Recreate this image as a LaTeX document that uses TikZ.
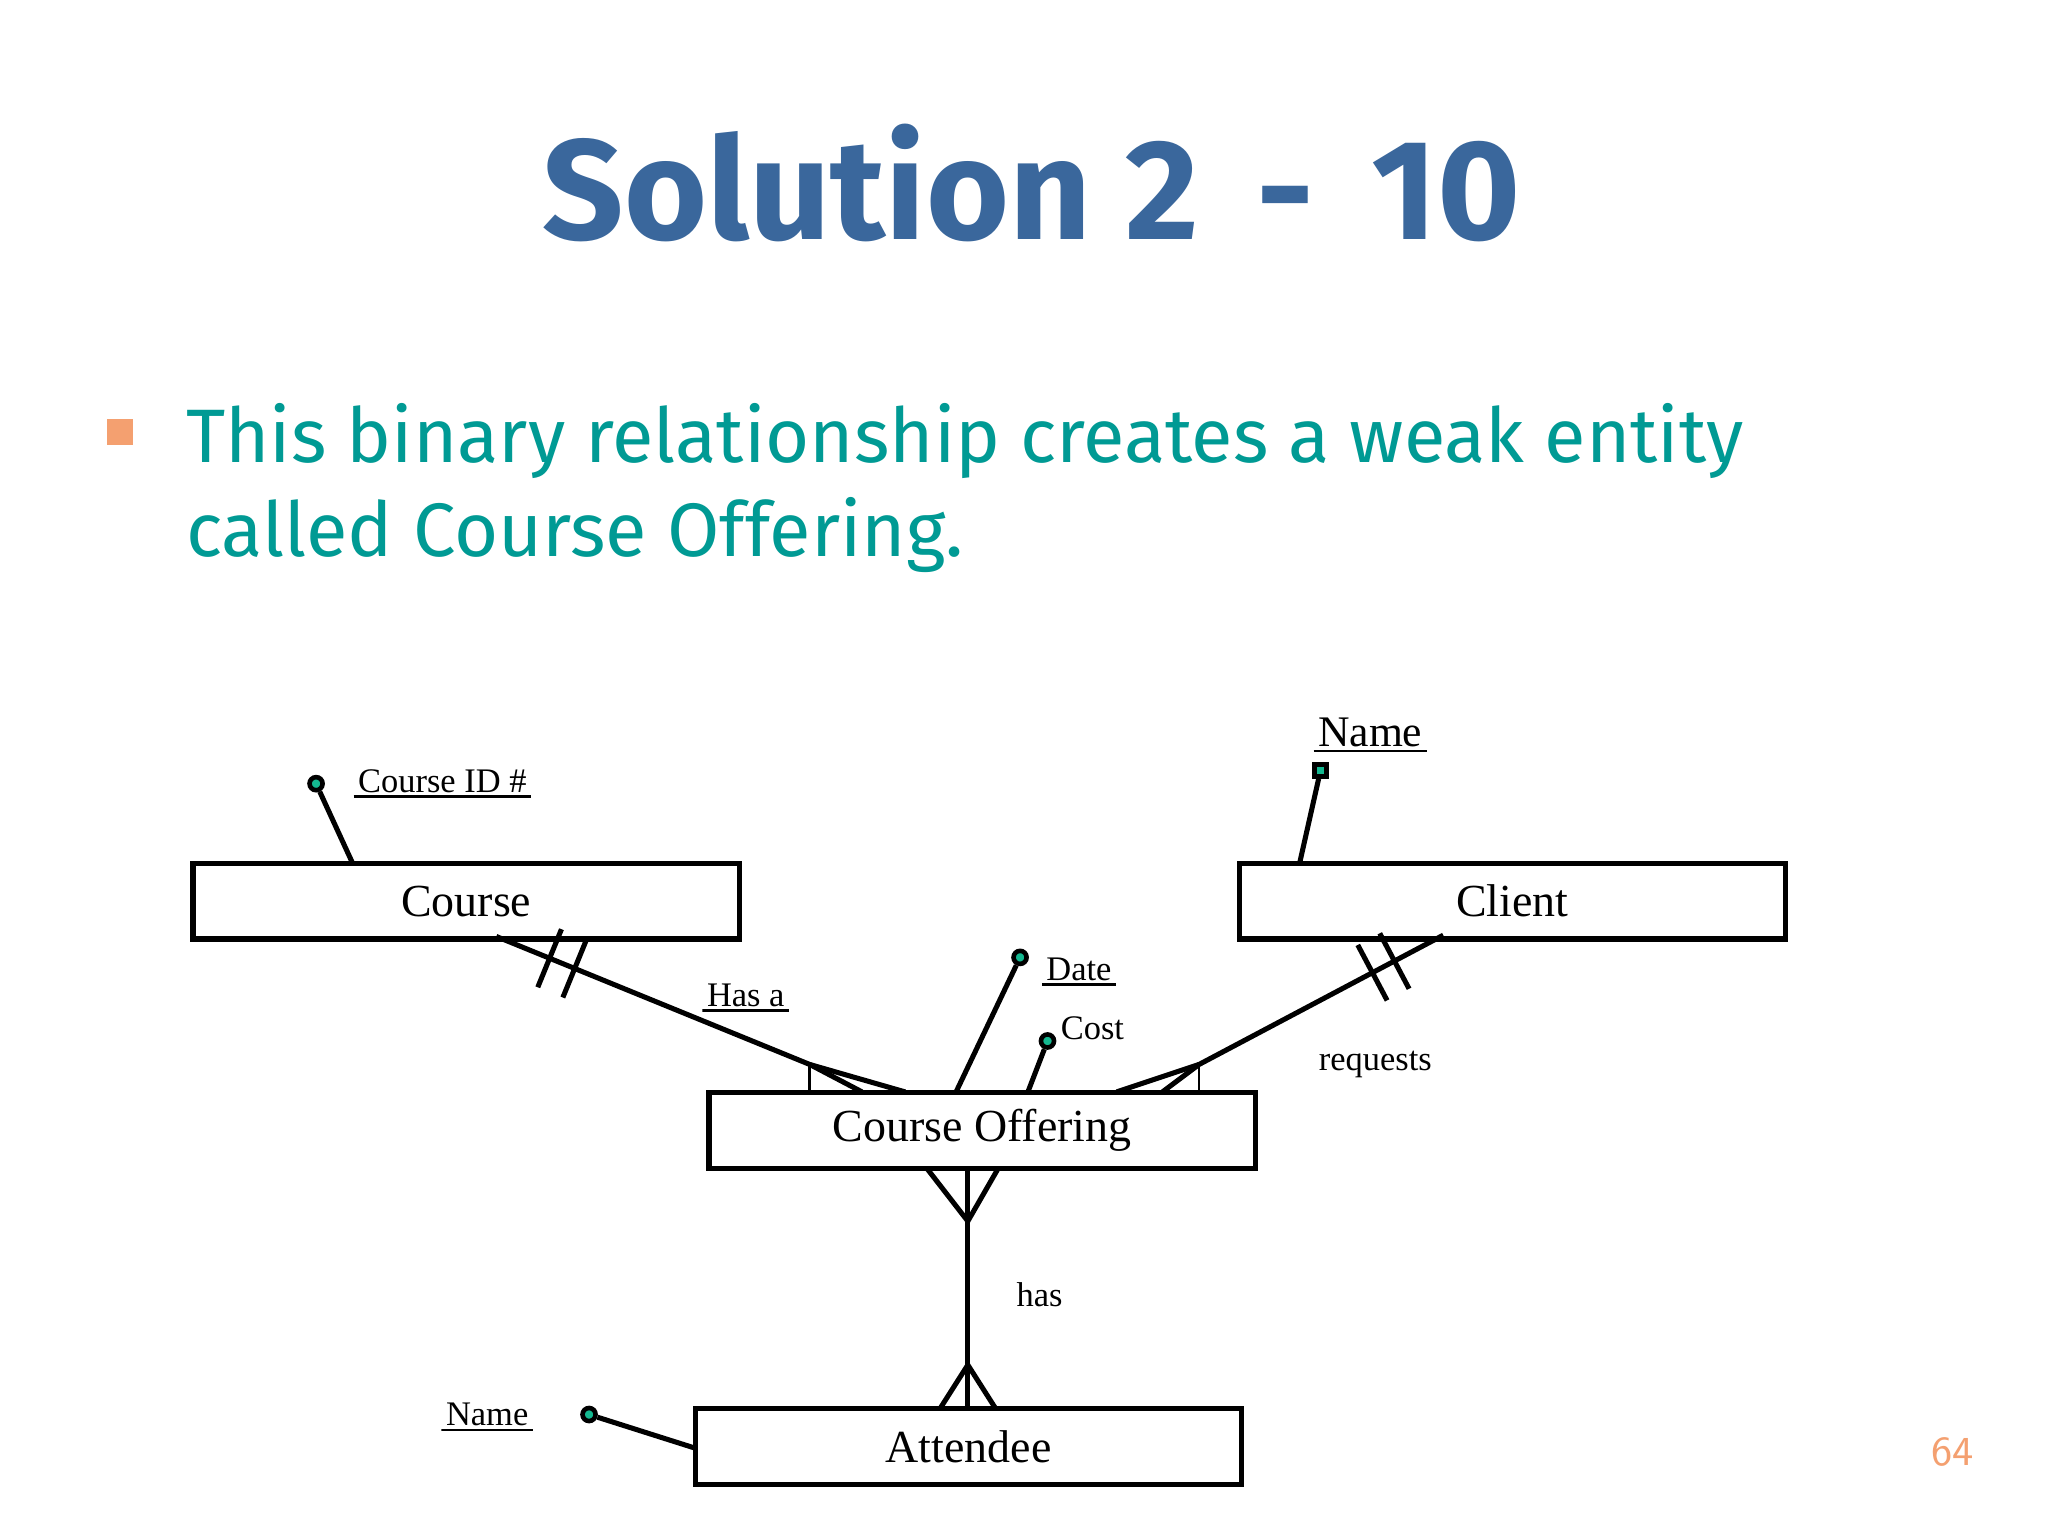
\documentclass[tikz,border=0pt]{standalone}
\usepackage{fontspec}
\setmainfont{Liberation Serif}
\newfontfamily\titlefont{Fira Sans}
\usetikzlibrary{calc}
\definecolor{titleblue}{HTML}{3A679C}
\definecolor{teal1}{HTML}{009A94}
\definecolor{orng}{HTML}{F4A070}
\definecolor{dotgreen}{HTML}{14B890}
\begin{document}
\begin{tikzpicture}[x=0.01cm,y=-0.01cm,
  ent/.style={draw,line width=1.2pt,minimum width=4.18cm,minimum height=0.58cm,inner sep=0pt,font=\fontsize{10}{12}\selectfont},
  lnk/.style={line width=1.1pt},
  thin/.style={line width=0.6pt},
  adot/.style={circle,draw,line width=1pt,fill=dotgreen,minimum size=0.1cm,inner sep=0pt},
  sdot/.style={rectangle,draw,line width=1pt,fill=dotgreen,minimum size=0.09cm,inner sep=0pt},
  lbl/.style={font=\fontsize{7.5}{9}\selectfont,inner sep=1pt},
  ulbl/.style={lbl,path picture={\draw[line width=0.8pt] (path picture bounding box.south west)--(path picture bounding box.south east);}}]
\useasboundingbox (0,0) rectangle (1568,1176);
\fill[white] (0,0) rectangle (1568,1176);
\node[titleblue,font=\titlefont\bfseries\fontsize{31}{36}\selectfont] (title) at (790,140) {Solution 2 \,-\, 10};
\node[fill=orng,minimum size=0.2cm,inner sep=0pt] (bul) at (92,331) {};
\node[teal1,anchor=north west,align=left,font=\titlefont\fontsize{16.5}{20.5}\selectfont,inner sep=0pt] (txt) at (142,308) {This binary relationship creates a weak entity\\called Course Offering.};
\node[orng,font=\sffamily\fontsize{9}{10}\selectfont] (pg) at (1495,1112) {64};
% entities
\node[ent] (course) at (357,690) {Course};
\node[ent] (client) at (1158,690) {Client};
\node[ent] (offer) at (752,865.5) {Course Offering};
\node[ent] (att) at (741.5,1107.5) {Attendee};
% attributes
\node[adot] (cid) at (242,600) {};
\draw[lnk] (cid) -- (270,661);
\node[ulbl,anchor=west] (cidl) at (270,598) {Course ID \#};
\node[sdot] (cn) at (1011,590) {};
\draw[lnk] (cn) -- (995,661);
\node[ulbl,font=\fontsize{9.5}{11}\selectfont,anchor=west] (cnl) at (1005,561) {Name};
\node[adot] (date) at (781,733) {};
\draw[lnk] (date) -- (732,836);
\node[ulbl,anchor=west] (datel) at (797,742) {Date};
\node[adot] (cost) at (802,797) {};
\draw[lnk] (cost) -- (787,836);
\node[lbl,anchor=west] (costl) at (808,787) {Cost};
\node[adot] (an) at (451,1083) {};
\draw[lnk] (an) -- (533,1109);
\node[ulbl] (anl) at (373,1083) {Name};
% Has a
\coordinate (h0) at (380,717);
\coordinate (h1) at (620,815);
\draw[lnk] (h0) -- (h1) -- (660,836);
\draw[lnk] (h1) -- (693,836);
\draw[thin] (h1) -- (620,836);
\coordinate (hb1) at ($(h0)!0.17!(h1)$);
\coordinate (hb2) at ($(h0)!0.25!(h1)$);
\draw[lnk] ($(hb1)!0.24cm!90:(h1)$) -- ($(hb1)!0.24cm!-90:(h1)$);
\draw[lnk] ($(hb2)!0.24cm!90:(h1)$) -- ($(hb2)!0.24cm!-90:(h1)$);
\node[ulbl] (hasa) at (571,762) {Has a};
% requests
\coordinate (r0) at (1105,716);
\coordinate (r1) at (918,815);
\draw[lnk] (r0) -- (r1) -- (890,836);
\draw[lnk] (r1) -- (855,836);
\draw[thin] (r1) -- (918,836);
\coordinate (rb1) at ($(r0)!0.2!(r1)$);
\coordinate (rb2) at ($(r0)!0.29!(r1)$);
\draw[lnk] ($(rb1)!0.24cm!90:(r1)$) -- ($(rb1)!0.24cm!-90:(r1)$);
\draw[lnk] ($(rb2)!0.24cm!90:(r1)$) -- ($(rb2)!0.24cm!-90:(r1)$);
\node[lbl] (req) at (1053,815) {requests};
% has
\coordinate (a0) at (741,935);
\coordinate (a1) at (741,1045);
\draw[lnk] (741,895) -- (741,1078);
\draw[lnk] (710,895) -- (a0) -- (764,895);
\draw[lnk] (720,1078) -- (a1) -- (762,1078);
\node[lbl] (has) at (796,991) {has};
\end{tikzpicture}
\end{document}
